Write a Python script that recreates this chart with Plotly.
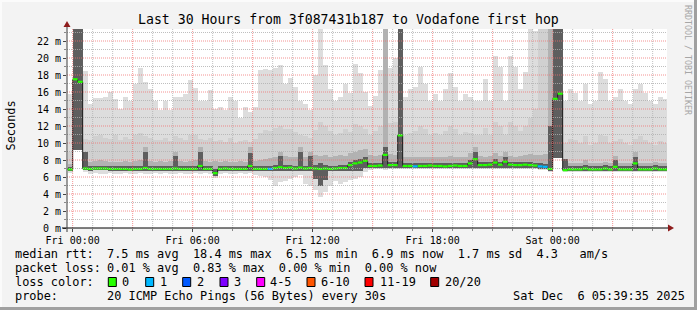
import plotly.graph_objects as go
from datetime import datetime, timedelta

# ---------------- data ----------------
title_text = "Last 30 Hours from 3f087431b187 to Vodafone first hop"
bin_start = datetime(2025, 12, 4, 23, 45)
bin_minutes = 15
range_start = datetime(2025, 12, 4, 23, 43)
range_end = datetime(2025, 12, 6, 5, 43)

# median rtt per 15-min bin (ms)
rtt_median = [
    6.90, 17.5, 17.2, 7.00, 6.95, 7.00, 7.00, 7.00, 6.95, 6.95,
    6.95, 6.95, 6.90, 6.95, 6.95, 7.05, 6.95, 6.95, 6.95, 6.95,
    6.95, 7.00, 6.95, 6.95, 6.95, 6.95, 7.30, 6.95, 6.95, 6.45,
    6.95, 7.00, 6.95, 6.95, 6.95, 6.95, 7.30, 6.95, 6.95, 6.95,
    6.95, 7.05, 7.15, 7.05, 7.10, 7.00, 7.10, 7.00, 7.05, 7.00,
    6.95, 7.00, 6.95, 7.00, 7.05, 7.05, 7.40, 7.60, 7.70, 7.90,
    7.30, 7.30, 7.35, 8.60, 7.40, 7.40, 10.9, 7.30, 7.30, 7.25,
    7.30, 7.30, 7.35, 7.30, 7.30, 7.25, 7.30, 7.35, 7.30, 7.30,
    7.60, 8.10, 7.40, 7.40, 7.45, 7.70, 7.45, 7.80, 7.45, 7.40,
    7.40, 7.45, 7.40, 7.35, 7.25, 7.20, 6.95, 15.2, 15.8, 6.80,
    6.90, 6.90, 6.90, 7.00, 6.90, 6.90, 6.90, 7.00, 6.90, 7.20,
    6.90, 6.90, 6.90, 7.60, 6.90, 6.90, 6.90, 7.00, 6.90, 6.90,
]
# lost pings (of 20) per bin
loss_count = [
    0, 0, 0, 0, 0, 0, 0, 0, 0, 0,
    0, 0, 0, 0, 0, 0, 0, 0, 0, 0,
    0, 0, 0, 0, 0, 0, 0, 0, 0, 0,
    0, 0, 0, 0, 0, 0, 0, 0, 0, 0,
    1, 0, 0, 0, 0, 0, 0, 0, 0, 0,
    0, 0, 0, 0, 0, 0, 0, 0, 0, 0,
    0, 0, 0, 0, 0, 0, 0, 0, 0, 1,
    0, 0, 0, 0, 0, 0, 0, 0, 0, 0,
    0, 0, 0, 0, 0, 0, 0, 0, 0, 0,
    0, 0, 0, 0, 1, 1, 0, 0, 0, 0,
    0, 0, 0, 0, 0, 0, 0, 0, 0, 0,
    0, 0, 0, 0, 0, 0, 0, 0, 0, 0,
]
# smoke: lowest ping
rtt_min = [
    6.5, 9.2, 9.2, 6.6, 6.4, 6.5, 6.3, 6.4, 6.5, 6.3,
    6.4, 6.5, 6.3, 6.4, 6.5, 6.4, 6.3, 6.5, 6.4, 6.5,
    6.4, 6.3, 6.5, 6.4, 6.4, 6.5, 6.4, 6.5, 6.4, 5.9,
    6.4, 6.5, 6.4, 6.3, 6.5, 6.4, 6.5, 6.2, 6.1, 6.0,
    5.6, 5.0, 5.4, 5.5, 5.8, 6.0, 6.2, 5.2, 5.0, 4.5,
    3.7, 4.2, 5.0, 5.5, 5.2, 5.4, 5.6, 5.8, 6.0, 6.6,
    6.8, 6.9, 6.9, 6.8, 6.9, 6.9, 6.9, 6.9, 6.9, 6.9,
    6.9, 6.9, 6.9, 6.9, 6.9, 6.9, 6.9, 6.9, 6.9, 6.9,
    6.9, 6.9, 6.9, 6.9, 6.9, 6.9, 6.9, 6.9, 6.9, 6.9,
    6.9, 6.9, 6.9, 6.9, 6.8, 6.8, 6.6, 8.2, 8.2, 6.6,
    6.6, 6.6, 6.6, 6.6, 6.6, 6.6, 6.6, 6.6, 6.6, 6.6,
    6.6, 6.6, 6.6, 6.6, 6.6, 6.6, 6.6, 6.6, 6.6, 6.6,
]
# smoke: lower quartile ping
rtt_p25 = [
    6.70, 9.20, 9.20, 6.80, 6.75, 6.80, 6.80, 6.80, 6.75, 6.75,
    6.75, 6.75, 6.70, 6.75, 6.75, 6.75, 6.75, 6.75, 6.75, 6.75,
    6.75, 6.75, 6.75, 6.75, 6.75, 6.75, 6.75, 6.75, 6.75, 6.10,
    6.75, 6.75, 6.75, 6.75, 6.75, 6.75, 6.75, 6.75, 6.75, 6.75,
    6.75, 6.75, 6.75, 6.75, 6.75, 6.75, 6.75, 6.75, 6.75, 5.80,
    5.00, 5.60, 6.75, 6.75, 6.75, 6.75, 6.75, 6.75, 6.75, 7.05,
    7.05, 7.05, 7.05, 7.05, 7.05, 7.05, 7.05, 7.05, 7.05, 7.05,
    7.05, 7.05, 7.05, 7.05, 7.05, 7.05, 7.05, 7.05, 7.05, 7.05,
    7.05, 7.05, 7.05, 7.05, 7.05, 7.05, 7.05, 7.05, 7.05, 7.05,
    7.05, 7.05, 7.05, 7.05, 7.00, 7.00, 6.75, 8.20, 8.20, 6.70,
    6.70, 6.70, 6.70, 6.70, 6.70, 6.70, 6.70, 6.70, 6.70, 6.70,
    6.70, 6.70, 6.70, 6.70, 6.70, 6.70, 6.70, 6.70, 6.70, 6.70,
]
# smoke: pings just above the median (dark core top)
rtt_core = [
    7.2, 30, 30, 8.9, 7.3, 7.35, 7.35, 7.35, 7.3, 7.3,
    7.3, 7.3, 7.25, 7.3, 7.3, 9.0, 7.3, 7.3, 7.3, 7.3,
    7.3, 8.5, 7.3, 7.3, 7.3, 7.3, 9.0, 7.3, 7.3, 7.0,
    7.3, 7.35, 7.3, 7.3, 7.3, 7.3, 8.8, 7.3, 7.3, 7.3,
    7.3, 7.4, 8.5, 7.4, 7.45, 7.35, 9.0, 7.35, 8.5, 7.4,
    7.6, 7.4, 7.3, 7.35, 7.4, 7.4, 7.8, 8.0, 8.1, 8.3,
    7.65, 7.65, 7.7, 9.5, 7.75, 7.75, 30, 7.65, 7.65, 7.6,
    7.65, 7.65, 7.7, 7.65, 7.65, 7.6, 7.65, 7.7, 7.65, 7.65,
    8.0, 8.9, 7.75, 7.75, 7.8, 8.1, 7.8, 8.3, 7.8, 7.75,
    7.75, 7.8, 7.75, 7.7, 7.6, 7.55, 12.0, 30, 30, 8.1,
    7.25, 7.25, 7.25, 7.4, 7.25, 7.25, 7.25, 7.4, 7.25, 8.0,
    7.25, 7.25, 7.25, 8.3, 7.25, 7.25, 7.25, 7.4, 7.25, 7.25,
]
# smoke: 60th percentile ping
rtt_p60 = [
    7.5, 30, 30, 9.0, 7.8, 7.9, 8.0, 7.9, 7.8, 7.8,
    7.8, 7.9, 7.8, 7.9, 8.0, 9.5, 7.9, 7.8, 7.9, 7.8,
    7.9, 9.0, 7.9, 7.8, 7.9, 8.0, 9.5, 7.9, 7.8, 7.9,
    7.8, 7.9, 7.8, 7.8, 7.9, 7.8, 9.5, 7.9, 8.0, 8.1,
    8.2, 8.4, 9.0, 8.5, 8.3, 8.4, 9.5, 8.4, 9.0, 8.6,
    8.5, 8.6, 8.4, 8.5, 8.6, 8.5, 8.8, 9.0, 9.2, 9.3,
    8.6, 8.5, 8.6, 30, 8.7, 8.6, 30, 8.4, 8.3, 8.4,
    8.3, 8.4, 8.3, 8.4, 8.3, 8.4, 8.5, 8.4, 8.3, 8.4,
    8.8, 9.5, 8.5, 8.4, 8.5, 8.8, 8.5, 9.0, 8.5, 8.4,
    8.5, 8.6, 8.7, 8.6, 8.6, 8.7, 30, 30, 30, 8.0,
    7.6, 7.6, 7.7, 8.0, 7.6, 7.7, 7.6, 7.8, 7.6, 8.5,
    7.6, 7.6, 7.7, 9.0, 7.6, 7.7, 7.6, 7.8, 7.6, 7.6,
]
# smoke: upper quartile ping
rtt_p75 = [
    9.0, 30, 30, 10.5, 10.4, 10.8, 11.0, 10.6, 10.5, 10.9,
    10.4, 10.7, 10.5, 11.0, 11.2, 10.8, 10.6, 10.4, 10.3, 10.6,
    10.2, 10.8, 10.6, 10.4, 11.0, 10.9, 10.5, 10.3, 10.6, 10.2,
    10.3, 10.1, 10.6, 10.0, 10.2, 10.4, 10.1, 10.5, 11.2, 11.5,
    11.4, 11.8, 12.0, 11.6, 11.7, 11.3, 10.9, 10.8, 10.6, 11.5,
    12.5, 12.0, 11.4, 11.0, 11.2, 11.6, 11.3, 12.2, 12.0, 11.6,
    11.0, 11.4, 12.0, 30, 12.3, 12.5, 30, 11.0, 11.2, 11.4,
    12.0, 11.6, 11.0, 11.2, 11.0, 11.4, 12.0, 11.6, 11.0, 11.3,
    11.2, 11.0, 11.0, 11.8, 11.0, 12.5, 12.0, 11.0, 12.5, 12.0,
    11.4, 12.0, 13.0, 14.0, 30, 30, 30, 30, 30, 10.0,
    10.5, 10.3, 10.0, 10.8, 9.8, 10.0, 11.0, 10.8, 10.0, 10.2,
    10.5, 10.0, 9.8, 10.5, 10.8, 10.4, 10.0, 9.8, 10.2, 10.0,
]
# smoke: highest ping
rtt_max = [
    15.8, 30, 30, 18.5, 14.6, 15.3, 15.3, 15.4, 16.0, 15.2,
    14.0, 15.4, 15.0, 17.0, 18.8, 17.2, 16.3, 15.0, 13.9, 15.0,
    13.9, 15.4, 15.4, 15.8, 17.4, 16.5, 15.0, 14.9, 16.2, 14.0,
    14.2, 13.9, 15.4, 15.0, 13.0, 14.2, 13.6, 14.2, 18.6, 18.7,
    18.6, 18.8, 19.2, 17.0, 17.7, 16.6, 15.0, 14.6, 13.9, 18.0,
    30, 19.2, 16.3, 15.0, 15.4, 17.0, 15.9, 19.3, 18.2, 16.0,
    14.3, 15.5, 18.6, 30, 18.8, 20.0, 30, 15.4, 16.3, 16.6,
    19.0, 17.0, 15.0, 15.8, 15.0, 16.3, 18.2, 16.6, 15.0, 15.8,
    15.4, 15.0, 15.0, 17.5, 15.0, 20.2, 19.0, 15.0, 20.2, 19.0,
    16.3, 18.4, 30, 23.2, 30, 30, 30, 30, 30, 15.0,
    16.3, 15.9, 15.0, 17.0, 14.6, 15.0, 18.4, 17.5, 15.0, 15.4,
    16.3, 15.0, 14.6, 16.3, 17.0, 15.9, 15.0, 14.6, 15.4, 15.2,
]

y_ticks = [0, 2, 4, 6, 8, 10, 12, 14, 16, 18, 20, 22]
y_tick_labels = [f"{v} m" for v in y_ticks]
x_tick_times = [datetime(2025, 12, 5, 0), datetime(2025, 12, 5, 6), datetime(2025, 12, 5, 12),
                datetime(2025, 12, 5, 18), datetime(2025, 12, 6, 0)]
x_tick_labels = ["Fri 00:00", "Fri 06:00", "Fri 12:00", "Fri 18:00", "Sat 00:00"]

rtt_stats = ["7.5 ms avg", "18.4 ms max", "6.5 ms min", "6.9 ms now", "1.7 ms sd", "4.3   am/s"]
loss_stats = ["0.01 % avg", "0.83 % max", "0.00 % min", "0.00 % now"]
loss_labels = ["0", "1", "2", "3", "4-5", "6-10", "11-19", "20/20"]
loss_colors = ["#26ff00", "#00b8ff", "#0059ff", "#7e00ff", "#ff00ff", "#ff5500", "#ff0000", "#a10000"]
loss_upper = [0, 1, 2, 3, 5, 10, 19, 20]
probe_text = "20 ICMP Echo Pings (56 Bytes) every 30s"
stamp_text = "Sat Dec  6 05:39:35 2025"

# ---------------- figure ----------------
W, H = 697, 310
L, R, T, B = 67, 30, 29, 82
PW, PH = W - L - R, H - T - B
YMAX = PH / 8.5
MONO = "DejaVu Sans Mono"


def px2x(px):
    return (px - L) / PW


def py2y(py):
    return (H - B - py) / PH


def nb(s):
    return s.replace(" ", "\u00a0")


n = len(rtt_median)
starts = [bin_start + timedelta(minutes=bin_minutes * k) for k in range(n)]
ends = [s + timedelta(minutes=bin_minutes) for s in starts]
centers = [s + timedelta(minutes=bin_minutes / 2) for s in starts]
bw = bin_minutes * 60 * 1000

fig = go.Figure()


def band(bottom, top, color):
    fig.add_trace(go.Bar(
        x=centers, base=bottom, y=[t - b for b, t in zip(bottom, top)],
        width=[bw] * n, marker=dict(color=color, line=dict(width=0)),
        hoverinfo="skip", showlegend=False))


band(rtt_min, rtt_max, "#dddddd")
band(rtt_p25, rtt_p75, "#d0d0d0")
band(rtt_p25, rtt_p60, "#b2b2b2")
band(rtt_p25, rtt_core, "#5e5e5e")

# median: dark connectors, then loss-coloured horizontal steps
fig.add_trace(go.Scatter(
    x=starts + [ends[-1]], y=rtt_median + [rtt_median[-1]], mode="lines",
    line=dict(color="#1e1e1e", width=1, shape="hv"), hoverinfo="skip", showlegend=False))


def loss_index(c):
    for i, u in enumerate(loss_upper):
        if c <= u:
            return i
    return len(loss_upper) - 1


for li, col in enumerate(loss_colors):
    xs, ys = [], []
    for k in range(n):
        if loss_index(loss_count[k]) == li:
            xs += [starts[k], ends[k], None]
            ys += [rtt_median[k], rtt_median[k], None]
    if xs:
        fig.add_trace(go.Scatter(x=xs, y=ys, mode="lines", line=dict(color=col, width=2.2),
                                 hoverinfo="skip", showlegend=False))

shapes = []
# grid (drawn above the smoke)
t = datetime(2025, 12, 5, 0)
while t < range_end:
    major = t.hour % 3 == 0
    shapes.append(dict(type="line", xref="x", yref="paper", x0=t, x1=t, y0=0, y1=1, layer="above",
                       line=dict(color="rgba(240,110,110,0.75)" if major else "rgba(175,175,175,0.8)",
                                 width=1, dash="1px,1px")))
    t += timedelta(hours=1)
for v in range(1, 24):
    if v > YMAX:
        break
    major = v % 2 == 0
    shapes.append(dict(type="line", xref="paper", yref="y", x0=0, x1=1, y0=v, y1=v, layer="above",
                       line=dict(color="rgba(240,110,110,0.75)" if major else "rgba(175,175,175,0.8)",
                                 width=1, dash="1px,1px")))
# axes with arrows
shapes.append(dict(type="line", xref="paper", yref="paper", x0=px2x(62), x1=px2x(669),
                   y0=0, y1=0, layer="above", line=dict(color="#000000", width=1)))
shapes.append(dict(type="line", xref="paper", yref="paper", x0=0, x1=0,
                   y0=py2y(232), y1=py2y(25), layer="above", line=dict(color="#3a3a3a", width=1)))
shapes.append(dict(type="path", xref="paper", yref="paper", layer="above",
                   path=f"M {px2x(668)},{py2y(224.5)} L {px2x(668)},{py2y(231.5)} L {px2x(674)},{py2y(228)} Z",
                   fillcolor="#8e1c1c", line=dict(width=0)))
shapes.append(dict(type="path", xref="paper", yref="paper", layer="above",
                   path=f"M {px2x(63.5)},{py2y(27)} L {px2x(70.5)},{py2y(27)} L {px2x(67)},{py2y(21)} Z",
                   fillcolor="#8e1c1c", line=dict(width=0)))
# frame
shapes.append(dict(type="rect", xref="paper", yref="paper", x0=px2x(0), x1=px2x(697), y0=py2y(0), y1=py2y(2),
                   fillcolor="#fbfbfb", line=dict(width=0), layer="below"))
shapes.append(dict(type="rect", xref="paper", yref="paper", x0=px2x(0), x1=px2x(2), y0=py2y(0), y1=py2y(310),
                   fillcolor="#fbfbfb", line=dict(width=0), layer="below"))
shapes.append(dict(type="rect", xref="paper", yref="paper", x0=px2x(694), x1=px2x(697), y0=py2y(0), y1=py2y(310),
                   fillcolor="#a0a0a0", line=dict(width=0), layer="below"))
shapes.append(dict(type="rect", xref="paper", yref="paper", x0=px2x(0), x1=px2x(697), y0=py2y(307), y1=py2y(310),
                   fillcolor="#a0a0a0", line=dict(width=0), layer="below"))

annotations = []


def txt(px, py, s, size=11.9, anchor="left", color="#000000", angle=0):
    annotations.append(dict(xref="paper", yref="paper", x=px2x(px), y=py2y(py), text=nb(s),
                            showarrow=False, xanchor=anchor, yanchor="middle", textangle=angle,
                            borderpad=0, borderwidth=0,
                            font=dict(family=MONO, size=size, color=color)))


txt(348, 19, title_text, size=13.2, anchor="center")
txt(10.5, 126, "Seconds", size=11.9, anchor="center", angle=-90)
txt(688, 60, "RRDTOOL / TOBI OETIKER", size=8.3, anchor="center", color="#a6a6a6", angle=90)

LY = [254, 268, 282, 296]
txt(15, LY[0], "median rtt:")
txt(106.5, LY[0], "  ".join(rtt_stats))
txt(15, LY[1], "packet loss:")
txt(106.5, LY[1], "  ".join(loss_stats))
txt(15, LY[2], "loss color:")
box_x = [108.3, 145.7, 182.7, 220, 256.7, 307, 365, 430.7]
lab_x = [122.3, 160, 197, 234.3, 270, 321, 380, 445]
for bx, lx, lab, col in zip(box_x, lab_x, loss_labels, loss_colors):
    shapes.append(dict(type="rect", xref="paper", yref="paper", x0=px2x(bx), x1=px2x(bx + 8),
                       y0=py2y(277.5), y1=py2y(286.5), fillcolor=col,
                       line=dict(color="#000000", width=1), layer="above"))
    txt(lx, LY[2], lab)
txt(15, LY[3], "probe:")
txt(106.5, LY[3], probe_text)
txt(512.5, LY[3], stamp_text)

fig.update_layout(
    width=W, height=H, margin=dict(l=L, r=R, t=T, b=B, pad=0),
    paper_bgcolor="#f3f3f3", plot_bgcolor="#ffffff",
    barmode="overlay", bargap=0, showlegend=False,
    shapes=shapes, annotations=annotations,
    xaxis=dict(type="date", range=[range_start, range_end], tickvals=x_tick_times, ticktext=x_tick_labels,
               showgrid=False, zeroline=False, showline=False, ticks="outside", ticklen=3,
               tickcolor="#444", tickfont=dict(family=MONO, size=10, color="#000"),
               minor=dict(ticks="outside", ticklen=2, tick0="2025-12-05", dtick=3600000,
                          tickcolor="#888", showgrid=False),
               fixedrange=True),
    yaxis=dict(range=[0, YMAX], tickvals=y_ticks, ticktext=y_tick_labels, showgrid=False,
               zeroline=False, showline=False, ticks="outside", ticklen=3, tickcolor="#444",
               tickfont=dict(family=MONO, size=10, color="#000"),
               minor=dict(ticks="outside", ticklen=2, dtick=1, tickcolor="#888", showgrid=False),
               fixedrange=True),
)

fig.write_html("out.html")
